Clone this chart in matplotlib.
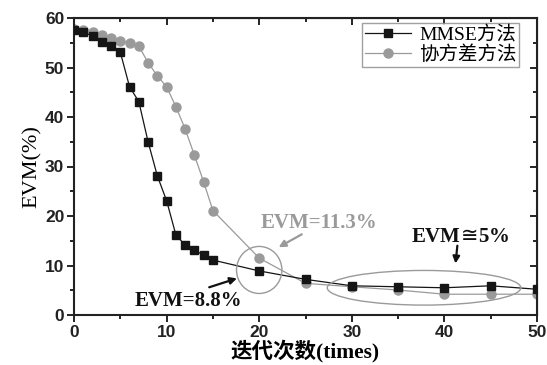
import numpy as np
import matplotlib
matplotlib.use('Agg')
import matplotlib.pyplot as plt
from matplotlib.patches import Ellipse
from matplotlib.ticker import MultipleLocator

# Dati
iter_mmse = [0, 1, 2, 3, 4, 5, 6, 7, 8, 9, 10, 11, 12, 13, 14, 15, 20, 25, 30, 35, 40, 45, 50]
evm_mmse = [57.6, 57.1, 56.4, 55.2, 54.3, 53.1, 46.1, 43.1, 35.0, 28.1, 23.1, 16.2, 14.1, 13.1, 12.1, 11.1,
            8.9, 7.2, 5.9, 5.7, 5.5, 5.9, 5.2]
iter_cov = [0, 1, 2, 3, 4, 5, 6, 7, 8, 9, 10, 11, 12, 13, 14, 15, 20, 25, 30, 35, 40, 45, 50]
evm_cov = [57.7, 57.5, 57.1, 56.6, 56.0, 55.4, 54.9, 54.3, 51.0, 48.3, 46.1, 42.1, 37.6, 32.3, 26.9, 21.1,
           11.5, 6.4, 5.7, 5.05, 4.2, 4.2, 4.2]

lab_mmse = 'MMSE方法'
lab_cov = '协方差方法'

serif_cjk = ['Liberation Serif', 'Noto Sans CJK SC']
grigio = '#9a9a9a'

fig = plt.figure(figsize=(5.47, 3.65), dpi=100)
ax = fig.add_axes([74 / 547, 1 - 315 / 365, (537 - 74) / 547, (315 - 18) / 365])

ax.plot(iter_mmse, evm_mmse, '-s', color='#151515', lw=0.9, ms=6, label=lab_mmse, zorder=3)
ax.plot(iter_cov, evm_cov, '-o', color=grigio, lw=0.9, ms=6.5, label=lab_cov, zorder=2)

ax.set_xlim(0, 50)
ax.set_ylim(0, 60)
ax.xaxis.set_major_locator(MultipleLocator(10))
ax.xaxis.set_minor_locator(MultipleLocator(5))
ax.yaxis.set_major_locator(MultipleLocator(10))
ax.yaxis.set_minor_locator(MultipleLocator(5))
ax.tick_params(which='both', direction='out', top=False, right=False, width=1.2, pad=2)
ax.tick_params(which='major', length=5)
ax.tick_params(which='minor', length=3)
for s in ax.spines.values():
    s.set_linewidth(1.5)
    s.set_color('#222222')

# tacche interne su alto e destra
ax2 = ax.secondary_xaxis('top')
ax2.xaxis.set_major_locator(MultipleLocator(10))
ax2.xaxis.set_minor_locator(MultipleLocator(5))
ax2.tick_params(which='both', direction='in', labeltop=False, width=1.2)
ax2.tick_params(which='major', length=5)
ax2.tick_params(which='minor', length=3)
ax3 = ax.secondary_yaxis('right')
ax3.yaxis.set_major_locator(MultipleLocator(10))
ax3.yaxis.set_minor_locator(MultipleLocator(5))
ax3.tick_params(which='both', direction='in', labelright=False, width=1.2)
ax3.tick_params(which='major', length=5)
ax3.tick_params(which='minor', length=3)

for t in ax.get_xticklabels() + ax.get_yticklabels():
    t.set_fontfamily('Liberation Sans')
    t.set_fontweight('bold')
    t.set_fontsize(12.5)
    t.set_color('#222222')

ax.set_ylabel('EVM(%)', family='Liberation Serif', fontsize=16, labelpad=2)
ax.set_xlabel('迭代次数(times)', family=serif_cjk, fontsize=15.5, fontweight='bold', labelpad=0)

leg = ax.legend(loc='upper right', prop={'family': serif_cjk, 'size': 14},
                frameon=True, fancybox=False, edgecolor='#888888', handlelength=2.4,
                handletextpad=0.4, borderpad=0.15, labelspacing=0.05, borderaxespad=0,
                bbox_to_anchor=(0.962, 0.982))
leg.get_frame().set_linewidth(1.0)

# cerchi ed ellisse
ax.add_patch(Ellipse((20, 9.1), 4.9, 9.5, fill=False, edgecolor=grigio, lw=1.0, zorder=4))
ax.add_patch(Ellipse((37.8, 5.5), 20.9, 7.0, fill=False, edgecolor=grigio, lw=1.0, zorder=4))

# testi
ax.text(26.5, 18.6, 'EVM=11.3%', color=grigio, family='Liberation Serif', fontweight='bold',
        fontsize=15, ha='center', va='center')
ax.text(12.4, 2.8, 'EVM=8.8%', color='#111111', family='Liberation Serif', fontweight='bold',
        fontsize=15, ha='center', va='center')
ax.text(41.7, 15.7, r'EVM$\!\cong\!$5%', color='#111111', family='Liberation Serif',
        fontweight='bold', fontsize=15, ha='center', va='center')

# frecce
ax.annotate('', xy=(22.1, 13.7), xytext=(24.6, 16.3),
            arrowprops=dict(arrowstyle='-|>', color=grigio, lw=1.6, shrinkA=0, shrinkB=0))
ax.annotate('', xy=(17.6, 7.4), xytext=(14.6, 5.6),
            arrowprops=dict(arrowstyle='-|>', color='#111111', lw=1.6, shrinkA=0, shrinkB=0))
ax.annotate('', xy=(41.2, 10.4), xytext=(41.4, 14.0),
            arrowprops=dict(arrowstyle='-|>', color='#111111', lw=1.6, shrinkA=0, shrinkB=0))

plt.savefig('out.png', dpi=100)
plt.close()
